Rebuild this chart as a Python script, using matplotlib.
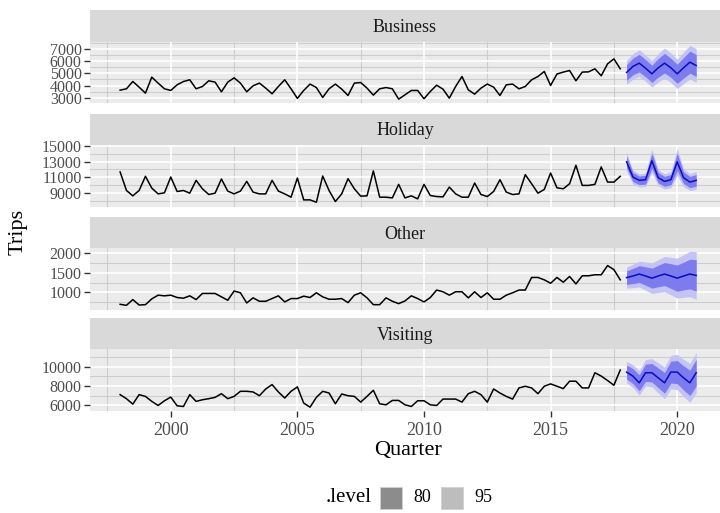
import matplotlib
matplotlib.use("Agg")
import matplotlib.pyplot as plt
import numpy as np

plt.rcParams["font.family"] = ["Liberation Serif", "DejaVu Serif"]

PANEL_BG = "#ebebeb"
STRIP_BG = "#d9d9d9"
MINOR = "#cdcdcd"
DARK80 = "#7c7cef"
LIGHT95 = "#c3c3f5"
MEAN = "#0b0bc0"
TICK = "#4d4d4d"

# quarterly history 1998 Q1 .. 2017 Q4 (80 values each)
START_YEAR = 1998
FC_START = 2018

business = [3626, 3735, 4333, 3870, 3380, 4690, 4200, 3735, 3600, 4060,
            4330, 4470, 3735, 3925, 4390, 4280, 3490, 4280, 4630, 4200,
            3490, 3980, 4200, 3790, 3330, 3925, 4470, 3735, 2950, 3600,
            4120, 3840, 3030, 3735, 4120, 3710, 3190, 4200, 4250, 3790,
            3220, 3735, 3840, 3735, 2890, 3245, 3600, 3600, 2920, 3520,
            4030, 3710, 2970, 3925, 4740, 3650, 3300, 3790, 4120, 3870,
            3190, 4060, 4120, 3735, 3925, 4470, 4740, 5150, 4010, 4940,
            5100, 5230, 4390, 5100, 5120, 5370, 4800, 5775, 6180, 5370]

holiday = [11680, 9340, 8660, 9340, 11130, 9640, 8910, 9040, 11040, 9210,
           9340, 9000, 10620, 9550, 8830, 9000, 10790, 9260, 8910, 9260,
           10490, 9130, 8910, 8910, 10620, 9260, 8910, 8490, 10910, 8150,
           8150, 7850, 11170, 9340, 7940, 8910, 10830, 9550, 8620, 8660,
           11810, 8490, 8490, 8400, 10110, 8400, 8660, 8280, 10110, 8700,
           8570, 8530, 9770, 8910, 8490, 8490, 10280, 8830, 8570, 9210,
           10700, 9130, 8830, 8910, 11340, 10190, 9000, 9470, 11550, 9680,
           9550, 10190, 12530, 9980, 9980, 10110, 12320, 10400, 10400, 11130]

other = [696, 670, 817, 678, 687, 835, 930, 913, 930, 870,
         852, 913, 817, 974, 974, 974, 887, 800, 1035, 991,
         730, 861, 774, 774, 843, 913, 757, 843, 843, 904,
         870, 991, 887, 826, 826, 843, 739, 930, 991, 861,
         687, 687, 861, 774, 713, 783, 913, 843, 757, 870,
         1061, 1017, 930, 1017, 1017, 861, 1017, 870, 991, 826,
         826, 930, 991, 1061, 1061, 1383, 1383, 1322, 1235, 1383,
         1261, 1409, 1217, 1426, 1426, 1452, 1452, 1687, 1583, 1322]

visiting = [7090, 6670, 6105, 7090, 6910, 6390, 5965, 6455, 6840, 5930,
            5860, 7090, 6390, 6560, 6670, 6810, 7190, 6670, 6910, 7440,
            7440, 7370, 6980, 7680, 8140, 7370, 6740, 7440, 7895, 6210,
            5790, 6810, 7440, 7260, 6140, 7160, 6980, 6910, 6315, 6910,
            7545, 6140, 6035, 6490, 6490, 6035, 5860, 6455, 6455, 6035,
            5965, 6630, 6630, 6630, 6315, 7190, 7440, 7090, 6315, 7680,
            7260, 6910, 6630, 7790, 7965, 7790, 7190, 7965, 8210, 7965,
            7720, 8490, 8490, 7790, 7790, 9370, 9020, 8560, 8070, 9650]

# forecasts 2018 Q1 .. 2020 Q4: point forecast and interval half-widths
business_fc = [5070, 5560, 5830, 5420, 4960, 5450, 5830, 5450, 4960, 5450, 5910, 5640]
business_hw80 = [640, 680, 720, 700, 700, 760, 800, 780, 780, 840, 900, 900]
business_hw95 = [980, 1040, 1100, 1070, 1070, 1160, 1230, 1200, 1200, 1290, 1380, 1380]

holiday_fc = [12960, 11040, 10620, 10700, 13090, 10960, 10490, 10700, 12960, 10960, 10400, 10620]
holiday_hw80 = [750, 580, 540, 560, 950, 660, 630, 660, 1100, 740, 700, 740]
holiday_hw95 = [1150, 890, 830, 860, 1450, 1010, 960, 1010, 1700, 1130, 1070, 1130]

other_fc = [1380, 1420, 1470, 1420, 1365, 1420, 1470, 1420, 1365, 1420, 1470, 1435]
other_hw80 = [175, 195, 215, 235, 255, 275, 295, 315, 335, 355, 380, 400]
other_hw95 = [270, 300, 330, 360, 390, 420, 450, 480, 510, 545, 580, 610]

visiting_fc = [9440, 9020, 8320, 9370, 9370, 8840, 8320, 9440, 9440, 8840, 8320, 9370]
visiting_hw80 = [720, 780, 840, 900, 960, 1020, 1080, 1140, 1200, 1260, 1320, 1380]
visiting_hw95 = [1100, 1190, 1280, 1380, 1470, 1560, 1650, 1740, 1830, 1930, 2020, 2100]

purposes = ["Business", "Holiday", "Other", "Visiting"]
history = [business, holiday, other, visiting]
forecasts = [business_fc, holiday_fc, other_fc, visiting_fc]
hw80s = [business_hw80, holiday_hw80, other_hw80, visiting_hw80]
hw95s = [business_hw95, holiday_hw95, other_hw95, visiting_hw95]
ylims = [(2567, 7600), (7300, 15090), (553, 2129), (5400, 11810)]
major_ticks = [[3000, 4000, 5000, 6000, 7000],
               [9000, 11000, 13000, 15000],
               [1000, 1500, 2000],
               [6000, 8000, 10000]]
minor_ticks = [[2500, 3500, 4500, 5500, 6500, 7500],
               [8000, 10000, 12000, 14000],
               [750, 1250, 1750],
               [7000, 9000, 11000]]
x_major = [2000, 2005, 2010, 2015, 2020]
x_minor = [1997.5, 2002.5, 2007.5, 2012.5, 2017.5]
xlim = (1996.81, 2021.69)

W, H = 720, 513
fig = plt.figure(figsize=(W / 100, H / 100), dpi=100)

left, right = 90, 720
panel_tops = [41.5, 145, 248.3, 349.3]
panel_h = 61.6
strip_h = 31.5

for k, name in enumerate(purposes):
    top = panel_tops[k]
    ax = fig.add_axes([left / W, 1 - (top + panel_h) / H, (right - left) / W, panel_h / H])
    st = fig.add_axes([left / W, 1 - top / H, (right - left) / W, strip_h / H])
    st.set_facecolor(STRIP_BG)
    st.set_xticks([])
    st.set_yticks([])
    for s in st.spines.values():
        s.set_visible(False)
    st.text(0.5, 0.45, name, ha="center", va="center", fontsize=13,
            color="#1a1a1a", transform=st.transAxes)

    ax.set_facecolor(PANEL_BG)
    for s in ax.spines.values():
        s.set_visible(False)

    x_hist = START_YEAR + np.arange(len(history[k])) / 4
    x_fc = FC_START + np.arange(len(forecasts[k])) / 4
    fc = np.array(forecasts[k])
    h80 = np.array(hw80s[k])
    h95 = np.array(hw95s[k])

    # grid
    for v in minor_ticks[k]:
        ax.axhline(v, color=MINOR, lw=0.8, zorder=0)
    for v in x_minor:
        ax.axvline(v, color=MINOR, lw=0.8, zorder=0)
    for v in major_ticks[k]:
        ax.axhline(v, color="white", lw=1.2, zorder=0.5)
    for v in x_major:
        ax.axvline(v, color="white", lw=1.2, zorder=0.5)

    ax.fill_between(x_fc, fc - h95, fc + h95, color=LIGHT95, lw=0, zorder=2)
    ax.fill_between(x_fc, fc - h80, fc + h80, color=DARK80, lw=0, zorder=3)
    ax.plot(x_fc, fc, color=MEAN, lw=1.1, zorder=4)
    ax.plot(x_hist, history[k], color="black", lw=1.1, zorder=4)

    ax.set_xlim(*xlim)
    ax.set_ylim(*ylims[k])
    ax.set_yticks(major_ticks[k])
    ax.set_yticklabels([str(v) for v in major_ticks[k]])
    ax.tick_params(axis="y", length=4, width=1, color="#333333", labelsize=11.5,
                   labelcolor=TICK, pad=2)
    ax.set_xticks(x_major)
    if k == len(purposes) - 1:
        ax.tick_params(axis="x", length=4, width=1, color="#333333", labelsize=13,
                       labelcolor=TICK, pad=4)
        ax.set_xticklabels([str(v) for v in x_major])
    else:
        ax.tick_params(axis="x", length=0, labelbottom=False)

fig.text(408 / W, 1 - 450 / H, "Quarter", ha="center", va="center", fontsize=16)
fig.text(18 / W, 1 - 232 / H, "Trips", ha="center", va="center", fontsize=16, rotation=90)

# legend
ly = 1 - 498 / H
fig.text(349 / W, ly, ".level", ha="center", va="center", fontsize=15)
sq = 22
for x0, col, lab, tx in [(380, "#8c8c8c", "80", 422), (441, "#bdbdbd", "95", 483)]:
    r = plt.Rectangle((x0 / W, ly - (sq / 2) / H), sq / W, sq / H, transform=fig.transFigure,
                      facecolor=col, edgecolor="#d0d0d0", lw=0.6)
    fig.patches.append(r)
    fig.text(tx / W, ly, lab, ha="center", va="center", fontsize=13)

fig.savefig("out.png", dpi=100, facecolor="white")
